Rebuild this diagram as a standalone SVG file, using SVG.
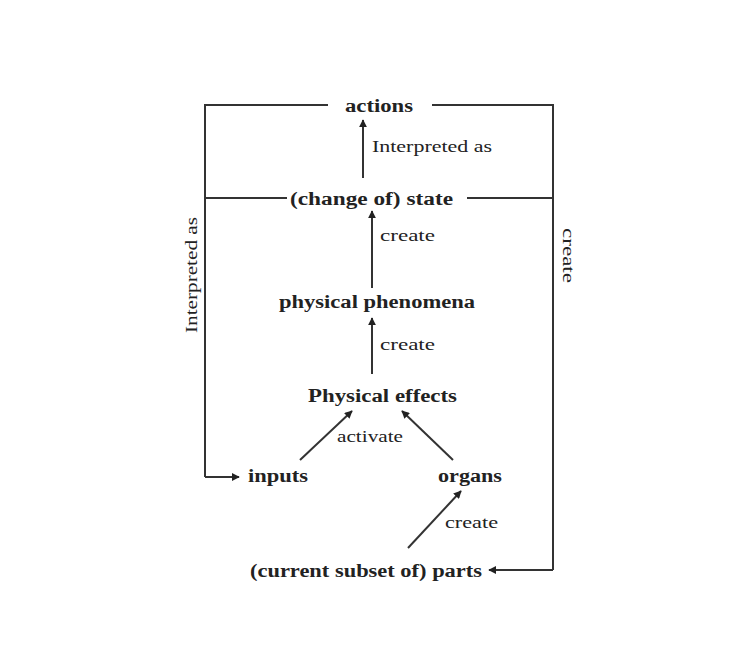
<svg xmlns="http://www.w3.org/2000/svg" width="746" height="658" viewBox="0 0 746 658">
<style>
.n{font-family:"Liberation Serif",serif;font-size:18px;font-weight:bold;fill:#222}
.l{font-family:"Liberation Serif",serif;font-size:16px;fill:#222}
.c{stroke:#333;stroke-width:2;fill:none}
.a{stroke:#333;stroke-width:2;fill:none;marker-end:url(#ah)}
</style>
<defs>
<marker id="ah" viewBox="0 0 10 10" refX="9" refY="5" markerWidth="4" markerHeight="4" orient="auto" markerUnits="strokeWidth">
<path d="M0,0 L10,5 L0,10 z" fill="#222"/>
</marker>
</defs>
<rect width="746" height="658" fill="#fff"/>
<g id="connectors">
<path class="c" d="M328,105 H205 V477"/>
<path class="a" d="M205,477 H239"/>
<path class="c" d="M432,105 H553 V570"/>
<path class="a" d="M553,570 H489"/>
<path class="c" d="M205,198 H287"/>
<path class="c" d="M467,198 H553"/>
<path class="a" d="M363,178 V120"/>
<path class="a" d="M372,288 V211"/>
<path class="a" d="M372,374 V318"/>
<path class="a" d="M300,460 L352,411"/>
<path class="a" d="M453,460 L402,411"/>
<path class="a" d="M408,548 L461,491"/>
<text class="l" x="372" y="152" textLength="120" lengthAdjust="spacingAndGlyphs">Interpreted as</text>
<text class="l" x="380" y="241" textLength="55" lengthAdjust="spacingAndGlyphs">create</text>
<text class="l" x="380" y="350" textLength="55" lengthAdjust="spacingAndGlyphs">create</text>
<text class="l" x="337" y="442" textLength="66" lengthAdjust="spacingAndGlyphs">activate</text>
<text class="l" x="445" y="528" textLength="53" lengthAdjust="spacingAndGlyphs">create</text>
<text class="l" transform="translate(197,333) rotate(-90)" textLength="116" lengthAdjust="spacingAndGlyphs">Interpreted as</text>
<text class="l" transform="translate(563,228) rotate(90)" textLength="55" lengthAdjust="spacingAndGlyphs">create</text>
</g>
<g id="actions"><text class="n" x="345" y="112" textLength="68" lengthAdjust="spacingAndGlyphs">actions</text></g>
<g id="state"><text class="n" x="290" y="205" textLength="163" lengthAdjust="spacingAndGlyphs">(change of) state</text></g>
<g id="phenomena"><text class="n" x="279" y="308" textLength="196" lengthAdjust="spacingAndGlyphs">physical phenomena</text></g>
<g id="effects"><text class="n" x="308" y="402" textLength="149" lengthAdjust="spacingAndGlyphs">Physical effects</text></g>
<g id="inputs"><text class="n" x="248" y="482" textLength="60" lengthAdjust="spacingAndGlyphs">inputs</text></g>
<g id="organs"><text class="n" x="438" y="482" textLength="64" lengthAdjust="spacingAndGlyphs">organs</text></g>
<g id="parts"><text class="n" x="250" y="577" textLength="232" lengthAdjust="spacingAndGlyphs">(current subset of) parts</text></g>
</svg>
